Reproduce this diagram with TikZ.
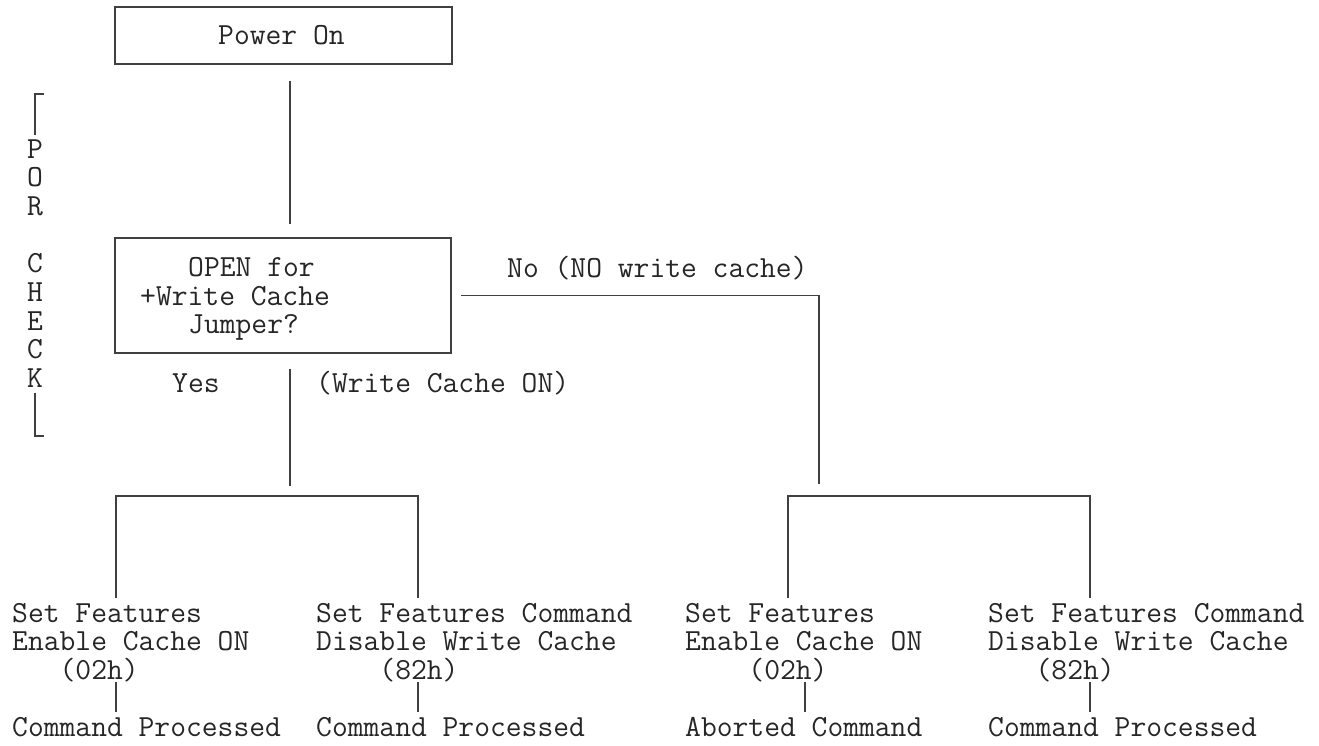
\documentclass[tikz,border=0pt]{standalone}
\usepackage{fontspec}
\usetikzlibrary{calc}
\tikzset{
  wire/.style={line width=1.5pt, black!75},
  box/.style={draw, line width=1.5pt, black!75, inner sep=0pt},
  txt/.style={anchor=base west, inner sep=0pt, text=black!85,
    font=\ttfamily\fontsize{30.7}{30.7}\selectfont},
}

\begin{document}
\begin{tikzpicture}[x=1pt,y=-1pt]
\useasboundingbox (0,0) rectangle (1319,745);

% boxes
\node[box, minimum width=337pt, minimum height=57pt] (power) at (283.5,35.5) {};
\node[txt] (powertxt) at (218,44) {Power On};
\node[box, minimum width=336pt, minimum height=115pt] (ask) at (283,295.5) {};
\node[txt] (ask1) at (188,276) {OPEN for};
\node[txt] (ask2) at (140,305) {+Write Cache};
\node[txt] (ask3) at (188,333) {Jumper?};

% branch labels
\node[txt] (nolbl) at (507,277) {No (NO write cache)};
\node[txt] (yeslbl) at (172,392) {Yes};
\node[txt] (onlbl) at (316,392) {(Write Cache ON)};

% POR CHECK
\foreach \ch [count=\i from 0] in {P,O,R,{},C,H,E,C,K}
  \node[txt] (por\i) at (27,158+28.7*\i) {\ch};
\coordinate (bratop) at (44,94);
\coordinate (brabot) at (44,436);
\draw[wire] (bratop) -| ([yshift=4pt]por0.north);
\draw[wire] ([yshift=-5pt]por8.south) |- (brabot);

% leaves
\foreach \x/\n/\a/\b/\c/\r in {12/1/Set Features/Enable Cache ON/\hphantom{000}(02h)/Command Processed,
    316/2/Set Features Command/Disable Write Cache/\hphantom{0000}(82h)/Command Processed,
    685/3/Set Features/Enable Cache ON/\hphantom{0000}(02h)/Aborted Command,
    988/4/Set Features Command/Disable Write Cache/\hphantom{000}(82h)/Command Processed} {
  \node[txt] (set\n) at (\x,622) {\a};
  \node[txt] (mode\n) at (\x,650.7) {\b};
  \node[txt] (code\n) at (\x,679.4) {\c};
  \node[txt] (res\n) at (\x,736.8) {\r};
}

% connectors
\coordinate (stem) at (290,0);
\coordinate (l1) at (116,496);
\coordinate (l2) at (418,496);
\coordinate (r1) at (788,496);
\coordinate (r2) at (1090,496);
\coordinate (nodrop) at (819,484);
\coordinate (hook3) at (805,0);

\draw[wire] ([yshift=-16pt]power.south -| stem) -- ([yshift=13pt]ask.north -| stem);
\draw[wire] ([yshift=-15pt]ask.south -| stem) -- ++(0,117);
\draw[wire] ([xshift=9pt]ask.east) -| (nodrop);

\draw[wire] ([yshift=5pt]set1.north -| l1) |- (l2) -- ([yshift=5pt]set2.north -| l2);
\draw[wire] ([yshift=5pt]set3.north -| r1) |- (r2) -- ([yshift=5pt]set4.north -| r2);

\draw[wire] (code1.south -| l1) -- ([yshift=5pt]res1.north -| l1);
\draw[wire] (code2.south -| l2) -- ([yshift=5pt]res2.north -| l2);
\draw[wire] (code3.south -| hook3) -- ([yshift=5pt]res3.north -| hook3);
\draw[wire] (code4.south -| r2) -- ([yshift=5pt]res4.north -| r2);
\end{tikzpicture}
\end{document}
